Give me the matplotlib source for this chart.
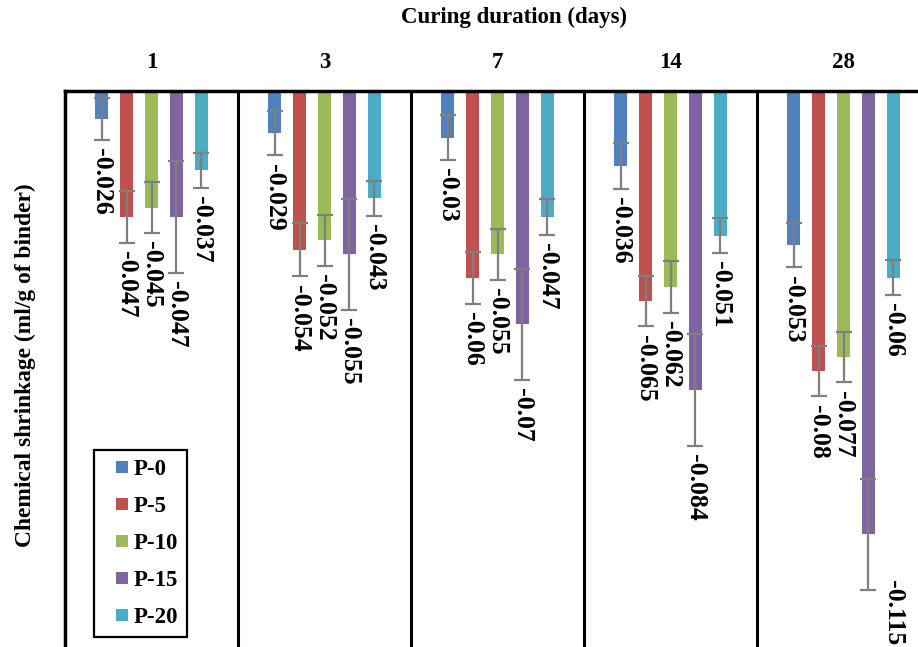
import matplotlib
matplotlib.use("Agg")
import matplotlib.pyplot as plt
from matplotlib.lines import Line2D
import numpy as np

# curing days and mixes
dias = ["1", "3", "7", "14", "28"]
mezclas = ["P-0", "P-5", "P-10", "P-15", "P-20"]

# chemical shrinkage (ml/g of binder), one list per mix
p0 = [-0.026, -0.029, -0.03, -0.036, -0.053]
p5 = [-0.047, -0.054, -0.06, -0.065, -0.08]
p10 = [-0.045, -0.052, -0.055, -0.062, -0.077]
p15 = [-0.047, -0.055, -0.07, -0.084, -0.115]
p20 = [-0.037, -0.043, -0.047, -0.051, -0.06]

# error bars
e0 = [0.0045, 0.0048, 0.0048, 0.0049, 0.0048]
e5 = [0.0055, 0.0057, 0.0056, 0.0054, 0.0054]
e10 = [0.0054, 0.0055, 0.0054, 0.0055, 0.0054]
e15 = [0.0119, 0.0119, 0.0119, 0.012, 0.0119]
e20 = [0.0037, 0.0038, 0.0038, 0.0037, 0.0037]

series = [p0, p5, p10, p15, p20]
errores = [e0, e5, e10, e15, e20]
colores = ["#4F81BD", "#C0504D", "#9BBB59", "#8064A2", "#4BACC6"]

base = -0.02  # axis crosses here, bars hang from it

plt.rcParams['font.family'] = ['Liberation Serif', 'DejaVu Serif']
plt.rcParams['font.weight'] = 'bold'

fig = plt.figure(figsize=(9.18, 6.47), dpi=100)
ax = fig.add_axes([65 / 918, 0.0, 1 - 65 / 918, 1 - 91 / 647])

x = np.arange(len(dias))
paso = 0.1445
ancho = 0.077

for i, (vals, errs, col, nombre) in enumerate(zip(series, errores, colores, mezclas)):
    pos = x + (i - 2) * paso
    alturas = [v - base for v in vals]
    ax.bar(pos, alturas, width=ancho, bottom=base, color=col, label=nombre, zorder=2)
    ax.errorbar(pos, vals, yerr=errs, fmt='none', ecolor='#7F7F7F',
                elinewidth=1.6, capsize=5.5, capthick=1.6, zorder=3)
    # value labels below the lower cap
    for px, v, e in zip(pos, vals, errs):
        desp = (0, -6)
        if v - e < -0.125:
            # no room underneath: put it beside the error bar
            desp = (18, 7)
        ax.annotate(str(v), (px, v - e), xytext=desp, textcoords='offset points',
                    rotation=270, ha='center', va='top', fontsize=18.5,
                    fontweight='bold')

# separators between groups
for s in x[1:] - 0.5:
    ax.axvline(s, color='black', linewidth=2.2, zorder=1)

ax.set_xlim(-0.5, 4.5 - 12 / 173)
ax.set_ylim(base - 556 / 4667, base)

ax.xaxis.tick_top()
ax.set_xticks(x)
ax.set_xticklabels(dias, fontsize=16.5, fontweight='bold')
ax.tick_params(axis='x', length=0, pad=13)
ax.set_yticks([])

for lado in ['right', 'bottom']:
    ax.spines[lado].set_visible(False)
for lado in ['left', 'top']:
    ax.spines[lado].set_linewidth(2.5)

# small square keys like the original legend
claves = [Line2D([], [], linestyle='none', marker='s', markersize=8.6,
                 markerfacecolor=c, markeredgewidth=0) for c in colores]
leg = ax.legend(claves, mezclas, loc='upper left', bbox_to_anchor=(0.034, 0.354),
                borderaxespad=0, fancybox=False, edgecolor='black', framealpha=1,
                prop={'size': 16.5, 'weight': 'bold'},
                handlelength=1.66, handletextpad=-0.35,
                labelspacing=0.69, borderpad=0.4)
leg.get_frame().set_linewidth(1.6)

fig.text(514 / 918, 1 - 17 / 647, "Curing duration (days)", ha='center', va='center',
         fontsize=16.5, fontweight='bold')
fig.text(25 / 918, 1 - 365 / 647, "Chemical shrinkage (ml/g of binder)", ha='center',
         va='center', rotation=90, fontsize=16.9, fontweight='bold')

fig.savefig("out.png", dpi=100)
